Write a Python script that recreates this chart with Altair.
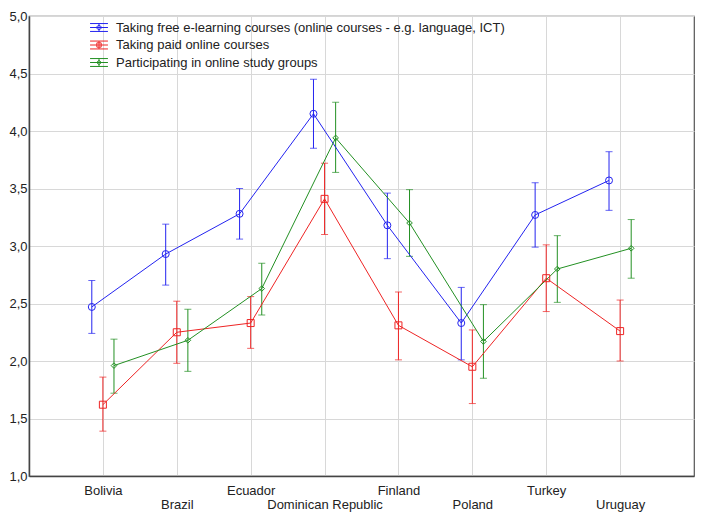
import altair as alt
import pandas as pd

countries = ["Bolivia", "Brazil", "Ecuador", "Dominican Republic", "Finland", "Poland", "Turkey", "Uruguay"]
series_names = [
    "Taking free e-learning courses (online courses -  e.g. language, ICT)",
    "Taking paid online courses",
    "Participating in online study groups",
]
series_colors = ["#2323f0", "#ee2424", "#239023"]

free_mean = [2.47, 2.93, 3.28, 4.15, 3.18, 2.33, 3.27, 3.57]
free_lo = [2.24, 2.66, 3.06, 3.85, 2.89, 2.01, 2.99, 3.31]
free_hi = [2.70, 3.19, 3.50, 4.45, 3.46, 2.64, 3.55, 3.82]
paid_mean = [1.62, 2.25, 2.33, 3.41, 2.31, 1.95, 2.72, 2.26]
paid_lo = [1.39, 1.98, 2.11, 3.10, 2.01, 1.63, 2.43, 2.00]
paid_hi = [1.86, 2.52, 2.56, 3.72, 2.60, 2.27, 3.01, 2.53]
group_mean = [1.96, 2.18, 2.63, 3.94, 3.20, 2.17, 2.80, 2.98]
group_lo = [1.72, 1.91, 2.40, 3.64, 2.91, 1.85, 2.51, 2.72]
group_hi = [2.19, 2.45, 2.85, 4.25, 3.49, 2.49, 3.09, 3.23]

y_ticks = [1.0, 1.5, 2.0, 2.5, 3.0, 3.5, 4.0, 4.5, 5.0]

rows = []
for s, (m, lo, hi) in enumerate([(free_mean, free_lo, free_hi),
                                  (paid_mean, paid_lo, paid_hi),
                                  (group_mean, group_lo, group_hi)]):
    for i, c in enumerate(countries):
        rows.append({"country": c, "idx": i + 1, "sidx": s, "series": series_names[s],
                     "mean": m[i], "lo": lo[i], "hi": hi[i]})
df = pd.DataFrame(rows)

names_js = "[" + ",".join("'" + c + "'" for c in countries) + "]"
x_label_expr = (f"datum.value % 2 == 0 ? ['', {names_js}[datum.value - 1]] : {names_js}[datum.value - 1]")

FONT = "Liberation Sans"
TXT = "#222222"
FS = 13

color_scale = alt.Scale(domain=series_names, range=series_colors)
color_enc = alt.Color("series:N", scale=color_scale, legend=None)

x_enc = alt.X("xpos:Q", title=None,
              scale=alt.Scale(domain=[0, len(countries) + 1], nice=False, zero=False),
              axis=alt.Axis(values=list(range(1, len(countries) + 1)), labelExpr=x_label_expr,
                            grid=True, gridColor="#d8d8d8", gridWidth=1,
                            ticks=False, labelPadding=8, labelLineHeight=14,
                            labelOverlap=False, labelFont=FONT, labelFontSize=FS, labelColor=TXT,
                            domainColor="#444444", domainWidth=1.5, labelBaseline="top"))

y_axis = alt.Axis(values=y_ticks, labelExpr="replace(format(datum.value, '.1f'), '.', ',')",
                  grid=True, gridColor="#d8d8d8", gridWidth=1, ticks=False, labelPadding=2,
                  labelFont=FONT, labelFontSize=FS, labelColor=TXT,
                  domainColor="#444444", domainWidth=1.5)
y_scale = alt.Scale(domain=[1, 5], nice=False, zero=False)

base = alt.Chart(df).transform_calculate(
    xpos="datum.idx + (datum.sidx == 0 ? -0.15 : (datum.sidx == 2 ? 0.15 : 0))"
)

bars = base.mark_rule(strokeWidth=1).encode(
    x=x_enc,
    y=alt.Y("lo:Q", scale=y_scale, axis=y_axis, title=None),
    y2="hi:Q",
    color=color_enc,
)
cap_lo = base.mark_tick(orient="horizontal", size=7, thickness=1).encode(
    x="xpos:Q", y="lo:Q", color=color_enc)
cap_hi = base.mark_tick(orient="horizontal", size=7, thickness=1).encode(
    x="xpos:Q", y="hi:Q", color=color_enc)
lines = base.mark_line(strokeWidth=1).encode(
    x="xpos:Q", y="mean:Q", color=color_enc, detail="series:N", order="idx:Q")

marker_paths = ["circle", "square", "M0,-0.8L0.8,0L0,0.8L-0.8,0Z"]
points = base.mark_point(filled=False, size=49, strokeWidth=1, opacity=1).encode(
    x="xpos:Q", y="mean:Q", color=color_enc,
    shape=alt.Shape("series:N", scale=alt.Scale(domain=series_names, range=marker_paths), legend=None),
)

# legend glyph: errorbar-style icon (unit = 7 px, symbol size 196)
glyph = "M-1.79,0H1.79M-1.79,-0.79H1.79M-1.79,0.79H1.79M0,-0.79V0.79"
legend_paths = [
    glyph + "M-0.43,0A0.43,0.43 0 1,0 0.43,0A0.43,0.43 0 1,0 -0.43,0Z",
    glyph + "M-0.43,-0.43H0.43V0.43H-0.43Z",
    glyph + "M0,-0.45L0.45,0L0,0.45L-0.45,0Z",
]
leg = alt.Legend(orient="none", legendX=63.5, legendY=5, title=None, padding=0,
                 labelFont=FONT, labelFontSize=FS, labelColor=TXT,
                 labelOffset=10.5, labelLimit=600, symbolStrokeWidth=1,
                 symbolFillColor="transparent")
legend_layer = base.transform_filter("false").mark_point(filled=False, size=196, strokeWidth=1, opacity=1).encode(
    x="xpos:Q",
    y="mean:Q",
    stroke=alt.Stroke("series:N", scale=color_scale, legend=leg),
    shape=alt.Shape("series:N", scale=alt.Scale(domain=series_names, range=legend_paths), legend=leg),
)

chart = alt.layer(bars, cap_lo, cap_hi, lines, points, legend_layer).resolve_scale(
    shape="independent", stroke="independent"
).properties(
    width=665, height=460, autosize=alt.AutoSizeParams(type="none"),
    padding={"left": 21, "top": 8, "right": 1, "bottom": 38}
).configure_view(stroke="#555555", strokeWidth=1.2).configure_legend(rowPadding=3.5)

chart.save("out.html", embed_options={"renderer": "svg", "actions": False})
